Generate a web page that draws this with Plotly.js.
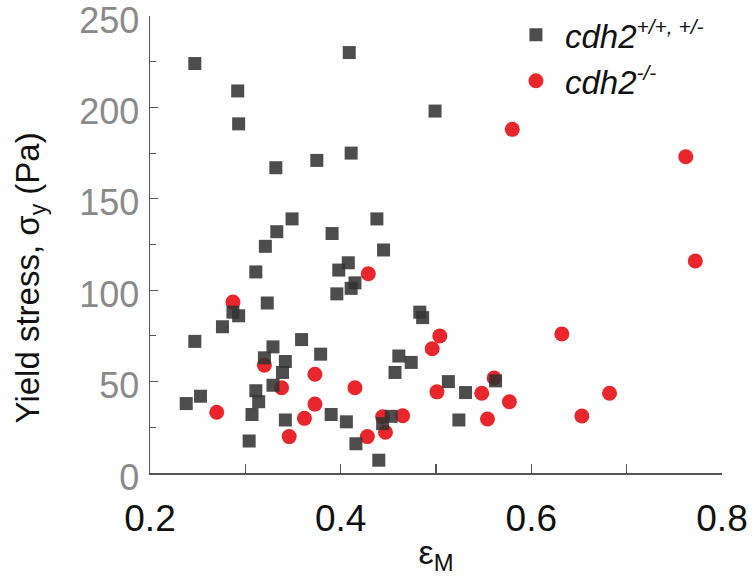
<!DOCTYPE html>
<html>
<head>
<meta charset="utf-8">
<script src="https://cdn.plot.ly/plotly-3.0.1.min.js"></script>
<style>html,body{margin:0;padding:0;background:#fff;}#chart{width:754px;height:584px;}</style>
</head>
<body>
<div id="chart"></div>
<script>
// cdh2 +/+, +/- (squares)
var wtStrain = [0.247,0.409,0.292,0.293,0.499,0.332,0.375,0.411,0.349,0.438,0.333,0.391,0.321,0.445,0.408,0.398,0.311,0.415,0.411,0.396,0.323,0.287,0.293,0.276,0.483,0.486,0.247,0.359,0.329,0.379,0.320,0.342,0.461,0.474,0.339,0.457,0.329,0.311,0.513,0.531,0.314,0.253,0.238,0.307,0.342,0.390,0.406,0.453,0.444,0.524,0.304,0.416,0.440,0.5625];
var wtStress = [224,230,209,191,198,167,171,175,139,139,132,131,124,122,115,111,110,104,101,98,93,88,86,80,88,85,72,73,69,65,63,61,64,60.5,55,55,48,45,50,44,39,42,38,32,29,32,28,31,27,29,17.5,16,7,50.4];
// cdh2 -/- (circles)
var koStrain = [0.287,0.429,0.504,0.496,0.320,0.373,0.338,0.415,0.501,0.270,0.373,0.362,0.444,0.465,0.346,0.428,0.447,0.580,0.762,0.772,0.632,0.561,0.548,0.682,0.577,0.554,0.653];
var koStress = [93.5,109,75,68,59,54,46.6,46.6,44.4,33.2,37.7,29.9,30.8,31.3,19.9,19.9,22.3,188,173,116,76,52,43.6,43.6,39,29.5,31.2];

var seriesNames = [
  '<i>cdh2</i><sup><span style="font-size:21px">+/+, +/-</span></sup>',
  '<i>cdh2</i><sup><span style="font-size:21px">-/-</span></sup>'
];
var xTitle = '\u03B5<sub>M</sub>';
var yTitle = 'Yield stress, \u03C3<sub>y</sub> (Pa)';

var FONT = 'Liberation Sans, Arial, Helvetica, sans-serif';

var traces = [
  {
    x: koStrain, y: koStress, type: 'scatter', mode: 'markers', name: seriesNames[1],
    marker: {symbol: 'circle', size: 15, color: '#e8262b', line: {width: 0}}
  },
  {
    x: wtStrain, y: wtStress, type: 'scatter', mode: 'markers', name: seriesNames[0],
    marker: {symbol: 'square', size: 13, color: '#333333', opacity: 0.87, line: {width: 0}}
  }
];

var layout = {
  width: 754, height: 584,
  margin: {l: 150, r: 32, t: 16, b: 111, autoexpand: false},
  paper_bgcolor: '#ffffff', plot_bgcolor: '#ffffff',
  font: {family: FONT, color: '#111'},
  showlegend: true,
  legend: {
    x: 0.624, y: 1.02, xanchor: 'left', yanchor: 'top',
    traceorder: 'reversed', bgcolor: 'rgba(0,0,0,0)',
    font: {family: FONT, size: 33, color: '#111', style: 'italic'},
    itemsizing: 'trace', itemwidth: 48
  },
  xaxis: {
    range: [0.2, 0.8], dtick: 0.2, tick0: 0.2,
    showgrid: false, zeroline: false,
    showline: true, linecolor: '#555', linewidth: 1.5,
    ticks: 'inside', ticklen: 9, tickwidth: 1.2, tickcolor: '#555',
    minor: {dtick: 0.1, ticks: 'inside', ticklen: 9, tickwidth: 1.2, tickcolor: '#555', showgrid: false},
    tickfont: {family: FONT, size: 37, color: '#111'},
    ticklabelstandoff: 12, ticklabeloverflow: 'allow',
    title: {text: xTitle, font: {family: FONT, size: 34, color: '#111'}, standoff: 2}
  },
  yaxis: {
    range: [0, 250], dtick: 50, tick0: 0,
    showgrid: false, zeroline: false,
    showline: true, linecolor: '#555', linewidth: 1.5,
    ticks: 'inside', ticklen: 8, tickwidth: 1.2, tickcolor: '#555',
    minor: {dtick: 25, ticks: 'inside', ticklen: 6, tickwidth: 1.2, tickcolor: '#555', showgrid: false},
    tickfont: {family: FONT, size: 36, color: '#8a8a8a'},
    ticklabelstandoff: 2, ticklabelshift: 4, ticklabeloverflow: 'allow'
  },
  annotations: [{
    text: yTitle, xref: 'paper', yref: 'paper',
    x: -0.2098, y: 0.428, xanchor: 'center', yanchor: 'middle',
    textangle: -90, showarrow: false,
    font: {family: FONT, size: 33, color: '#111'}
  }]
};

Plotly.newPlot('chart', traces, layout, {displayModeBar: false, staticPlot: true});
</script>
</body>
</html>
